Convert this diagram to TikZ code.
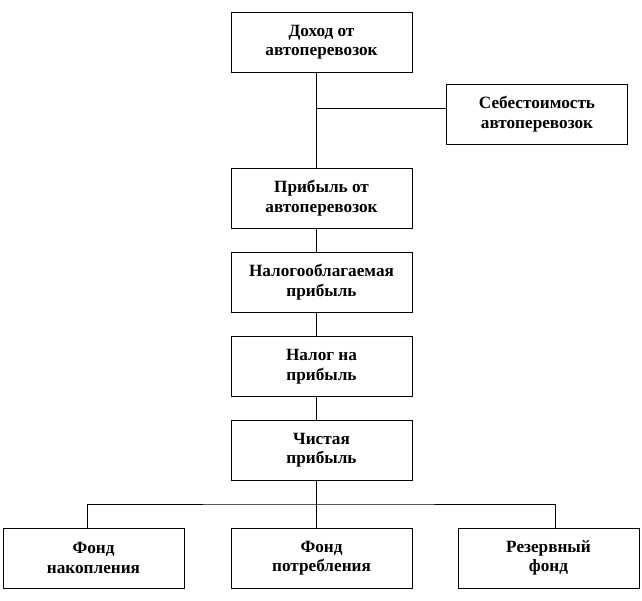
\documentclass[tikz,border=0pt]{standalone}
\usepackage{fontspec}
\setmainfont{Liberation Serif}
\begin{document}
\begin{tikzpicture}[x=1pt,y=-1pt,line width=0.6pt,
  blk/.style={draw,minimum width=181pt,minimum height=60pt,inner sep=0pt,align=center,font=\fontsize{17.2}{19.5}\selectfont\bfseries}]
\useasboundingbox (0,0) rectangle (642,600);
\node[blk](a) at (321.5,42){Доход от\\автоперевозок};
\node[blk](c) at (537,114){Себестоимость\\автоперевозок};
\node[blk](b) at (321.5,198){Прибыль от\\автоперевозок};
\node[blk](n) at (321.5,282){Налогооблагаемая\\прибыль};
\node[blk](h) at (321.5,366.5){Налог на\\прибыль};
\node[blk](p) at (321.5,450){Чистая\\прибыль};
\node[blk](f1) at (93.5,558){Фонд\\накопления};
\node[blk](f2) at (321.5,558){Фонд\\потребления};
\node[blk](f3) at (548.5,558){Резервный\\фонд};
% trunk and branches
\coordinate (j1) at (316,108);
\coordinate (j2) at (316,504);
\draw ([xshift=-5.5pt]a.south) -- ([xshift=-5.5pt]b.north);
\draw (j1) -- (j1 -| c.west);
\draw ([xshift=-5.5pt]b.south) -- ([xshift=-5.5pt]n.north);
\draw ([xshift=-5.5pt]n.south) -- ([xshift=-5.5pt]h.north);
\draw ([xshift=-5.5pt]h.south) -- ([xshift=-5.5pt]p.north);
\draw ([xshift=-5.5pt]p.south) -- ([xshift=-5.5pt]f2.north);
\draw ([xshift=-6.5pt]f1.north) |- (j2) -| ([xshift=6.5pt]f3.north);
\end{tikzpicture}
\end{document}
